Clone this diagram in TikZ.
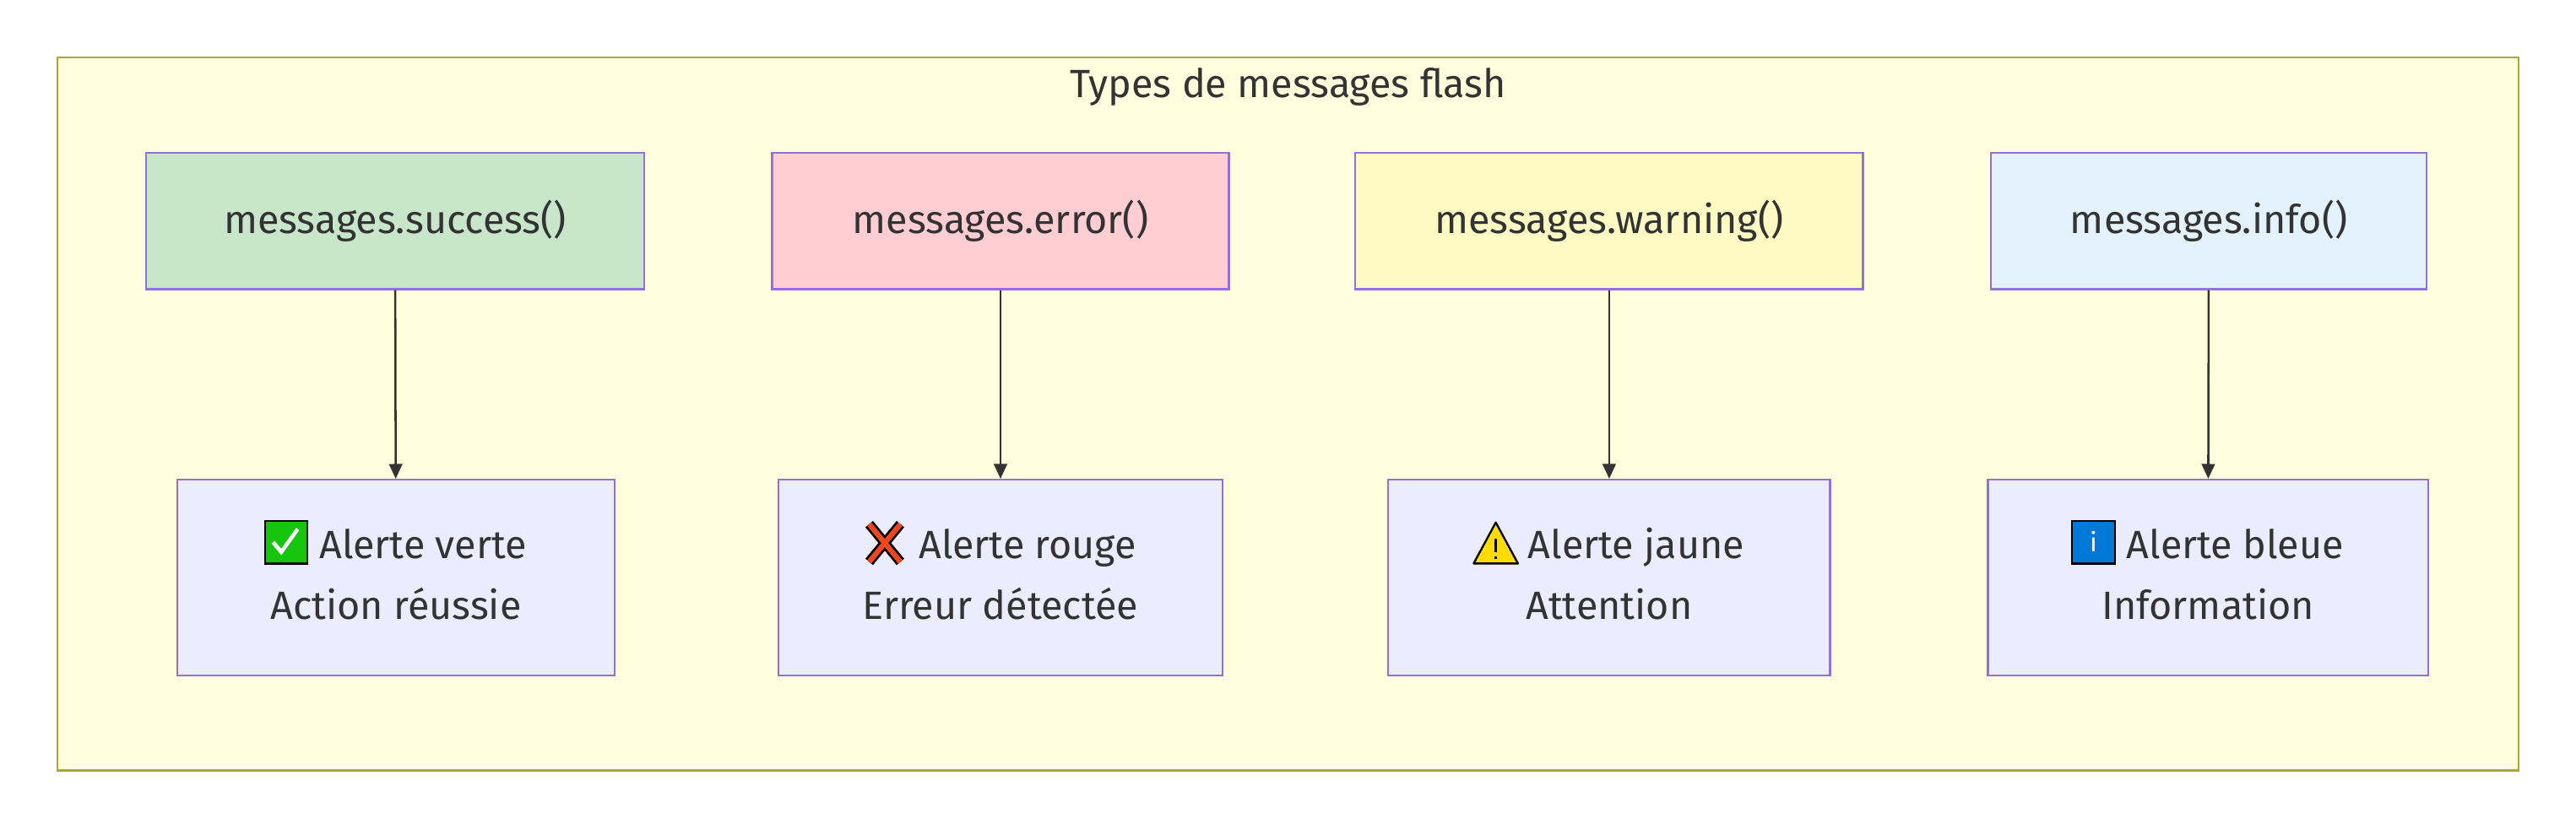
\documentclass[tikz,border=0pt]{standalone}
\usepackage{fontspec}
\setmainfont{Fira Sans}
\usetikzlibrary{arrows.meta}
\definecolor{frame}{HTML}{FFFFDE}
\definecolor{framed}{HTML}{AAAA33}
\definecolor{nd}{HTML}{9370DB}
\definecolor{nf}{HTML}{ECECFF}
\definecolor{txt}{HTML}{333333}
\definecolor{cs}{HTML}{C8E6C9}
\definecolor{ce}{HTML}{FFCDD2}
\definecolor{cw}{HTML}{FFF9C4}
\definecolor{ci}{HTML}{E3F2FD}
\definecolor{icg}{HTML}{16C60C}
\definecolor{icr}{HTML}{F0461E}
\definecolor{icy}{HTML}{FFDC00}
\definecolor{icb}{HTML}{0078D7}
\begin{document}
\begin{tikzpicture}[x=1pt,y=-1pt,
  box/.style={draw=nd,line width=1.2pt,minimum height=83pt,text=txt,font=\fontsize{24}{28}\selectfont,inner sep=0},
  alert/.style={draw=nd,line width=1.2pt,fill=nf,minimum height=119pt,inner sep=0},
  lbl/.style={text=txt,font=\fontsize{24}{28}\selectfont,inner sep=0,anchor=base},
  arr/.style={draw=txt,line width=1.3pt,-{Triangle[length=9pt,width=8pt]}}]
\useasboundingbox[fill=white] (0,0) rectangle (1568,505);
\draw[fill=frame,draw=framed,line width=1.2pt] (35,35) rectangle (1533,469);
\node[text=txt,font=\fontsize{24}{28}\selectfont] (title) at (784,53) {Types de messages flash};
\node[box,fill=cs,minimum width=303pt] (s) at (240.5,134.5) {messages.success()};
\node[box,fill=ce,minimum width=278pt] (e) at (609,134.5) {messages.error()};
\node[box,fill=cw,minimum width=309pt] (w) at (979.5,134.5) {messages.warning()};
\node[box,fill=ci,minimum width=265pt] (i) at (1344.5,134.5) {messages.info()};
\node[alert,minimum width=266pt] (as) at (241,351.5) {};
\node[alert,minimum width=270pt] (ae) at (609,351.5) {};
\node[alert,minimum width=269pt] (aw) at (979.5,351.5) {};
\node[alert,minimum width=268pt] (ai) at (1344,351.5) {};
% labels
\node[lbl] (as1) at (241,340) {\hspace{33pt}Alerte verte};
\node[lbl] (as2) at (241,377) {Action réussie};
\node[lbl] (ae1) at (609,340) {\hspace{33pt}Alerte rouge};
\node[lbl] (ae2) at (609,377) {Erreur détectée};
\node[lbl] (aw1) at (979.5,340) {\hspace{33pt}Alerte jaune};
\node[lbl] (aw2) at (979.5,377) {Attention};
\node[lbl] (ai1) at (1344,340) {\hspace{33pt}Alerte bleue};
\node[lbl] (ai2) at (1344,377) {Information};
% icons
\begin{scope}[shift={(as1.base west)}]
\draw[fill=icg,line width=1.2pt] (0,3) rectangle (26,-23);
\draw[white,line width=2.4pt] (5,-10)--(10,-4)--(20,-18);
\end{scope}
\begin{scope}[shift={(ae1.base west)}]
\draw[black,line width=6pt] (3,2)--(22,-21) (3,-21)--(22,2);
\draw[icr,line width=3.2pt] (3,2)--(22,-21) (3,-21)--(22,2);
\end{scope}
\begin{scope}[shift={(aw1.base west)}]
\draw[fill=icy,line width=1.2pt,line join=round] (0,3)--(27,3)--(13.5,-22)--cycle;
\draw[line width=1.6pt] (13.5,-12)--(13.5,-4) (13.5,-1.5)--(13.5,0);
\end{scope}
\begin{scope}[shift={(ai1.base west)}]
\draw[fill=icb,line width=1.2pt] (0,3) rectangle (26,-23);
\node[white,font=\fontsize{16}{16}\selectfont,inner sep=0,anchor=base] at (13,-4) {i};
\end{scope}
\draw[arr] (s) -- (as);
\draw[arr] (e) -- (ae);
\draw[arr] (w) -- (aw);
\draw[arr] (i) -- (ai);
\end{tikzpicture}
\end{document}
